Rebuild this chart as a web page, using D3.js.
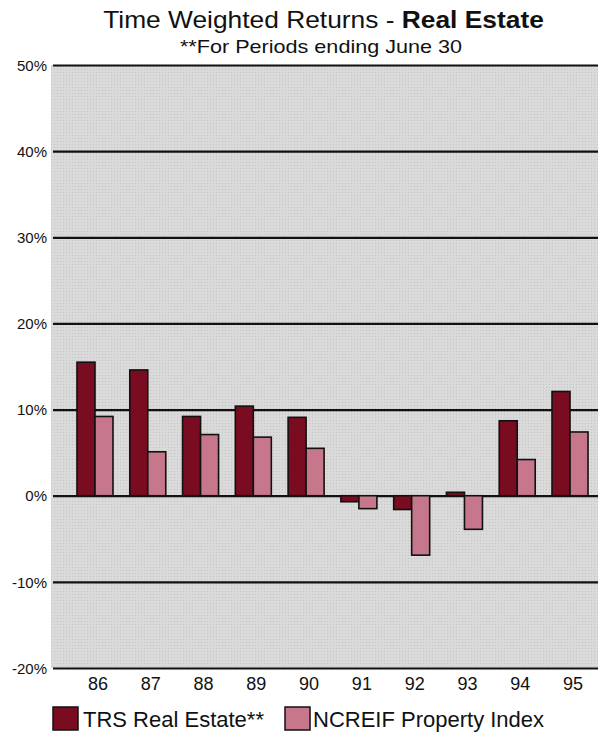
<!DOCTYPE html>
<html>
<head>
<meta charset="utf-8">
<script src="https://cdn.jsdelivr.net/npm/d3@7"></script>
<style>
  html, body { margin: 0; padding: 0; background: #ffffff; }
  svg { display: block; font-family: "Liberation Sans", Arial, sans-serif; }
</style>
</head>
<body>
<svg id="chart" width="598" height="736"></svg>
<script>
// Fiscal years (periods ending June 30)
const years = ["86", "87", "88", "89", "90", "91", "92", "93", "94", "95"];
// Annual time weighted returns, percent
const trsRealEstate = [15.5, 14.6, 9.2, 10.4, 9.1, -0.7, -1.6, 0.4, 8.7, 12.1];
const ncreifIndex   = [9.2, 5.1, 7.1, 6.8, 5.5, -1.5, -6.9, -3.9, 4.2, 7.4];
const seriesNames = ["TRS Real Estate**", "NCREIF Property Index"];
const yTicks = [-20, -10, 0, 10, 20, 30, 40, 50];

const colors = ["#7a0c22", "#c6778c"];

const svg = d3.select("#chart");
const plot = { left: 51, right: 598, top: 65, bottom: 668 };

const y = d3.scaleLinear().domain([-20, 50]).range([plot.bottom, plot.top]);
const x = d3.scaleBand().domain(years).range([68.6, 596.4])
  .paddingInner(0.318).paddingOuter(0.159);
const xs = d3.scaleBand().domain([0, 1]).range([0, x.bandwidth()]);

// Light gray plotting area with a fine screen texture
const defs = svg.append("defs");
const pat = defs.append("pattern").attr("id", "screen")
  .attr("width", 3).attr("height", 3).attr("patternUnits", "userSpaceOnUse");
pat.append("rect").attr("width", 3).attr("height", 3).attr("fill", "#dadada");
pat.append("rect").attr("width", 1).attr("height", 1).attr("fill", "#c4c4c4");

svg.append("rect")
  .attr("x", plot.left).attr("y", plot.top)
  .attr("width", plot.right - plot.left).attr("height", plot.bottom - plot.top)
  .attr("fill", "url(#screen)");

// Horizontal gridlines and left labels
const yAxis = d3.axisLeft(y).tickValues(yTicks).tickFormat(d => d + "%")
  .tickSize(-(plot.right - plot.left - 2)).tickPadding(6);
const ga = svg.append("g").attr("transform", `translate(${plot.left + 2},0)`).call(yAxis);
ga.select(".domain").remove();
ga.selectAll(".tick line").attr("stroke", "#111").attr("stroke-width", 2.2);
ga.selectAll(".tick text").attr("font-size", 15).attr("fill", "#111").attr("dy", "0.35em");

// Bars
const series = [trsRealEstate, ncreifIndex];
series.forEach((vals, si) => {
  svg.append("g").selectAll("rect").data(vals).join("rect")
    .attr("x", (d, i) => x(years[i]) + xs(si))
    .attr("width", xs.bandwidth())
    .attr("y", d => y(Math.max(0, d)))
    .attr("height", d => Math.abs(y(d) - y(0)))
    .attr("fill", colors[si])
    .attr("stroke", "#111").attr("stroke-width", 1.6);
});

// Category labels
const xAxis = d3.axisBottom(x).tickSize(0).tickPadding(9);
const gx = svg.append("g").attr("transform", `translate(3,${plot.bottom})`).call(xAxis);
gx.select(".domain").remove();
gx.selectAll("text").attr("font-size", 18).attr("fill", "#111");

// Title
const title = svg.append("text")
  .attr("transform", "translate(323.5,28) scale(1.146,1)")
  .attr("text-anchor", "middle").attr("font-size", 23).attr("fill", "#111");
title.append("tspan").text("Time Weighted Returns - ");
title.append("tspan").attr("font-weight", "bold").text("Real Estate");
svg.append("text")
  .attr("transform", "translate(321,53) scale(1.2,1)")
  .attr("text-anchor", "middle")
  .attr("font-size", 18).attr("fill", "#111").text("**For Periods ending June 30");

// Legend
const legendX = [53, 285];
const lg = svg.append("g").selectAll("g").data(seriesNames).join("g")
  .attr("transform", (d, i) => `translate(${legendX[i]},707)`);
lg.append("rect").attr("width", 25).attr("height", 23)
  .attr("fill", (d, i) => colors[i]).attr("stroke", "#111").attr("stroke-width", 1.5);
lg.append("text").attr("x", (d, i) => i === 0 ? 30 : 28).attr("y", 20)
  .attr("font-size", 22).attr("fill", "#111")
  .text(d => d);
</script>
</body>
</html>
